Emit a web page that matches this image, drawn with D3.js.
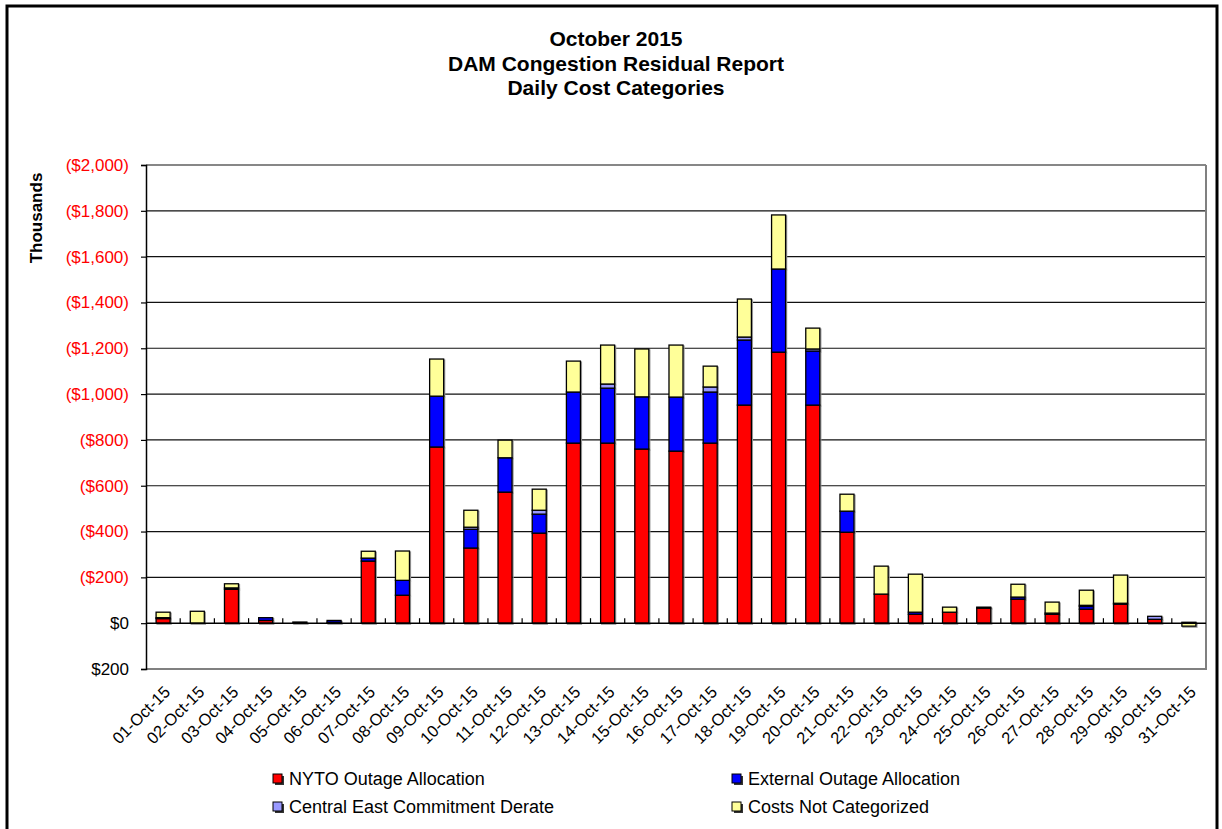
<!DOCTYPE html>
<html>
<head>
<meta charset="utf-8">
<script src="https://cdn.jsdelivr.net/npm/d3@7"></script>
<style>
  body { margin: 0; background: #fff; }
  text { font-family: "Liberation Sans", Arial, sans-serif; }
</style>
</head>
<body>
<div class="graph"></div>
<script>
// data (thousands of $, cost shown as positive = upward)
const days = d3.range(1, 32).map(d => String(d).padStart(2, "0") + "-Oct-15");
const nyto = [20, 0, 153, 12, 0, 4, 271, 122, 769, 328, 572, 393, 786, 786, 760, 751, 786, 952, 1183, 952, 397, 131, 39, 52, 70, 105, 39, 61, 83, 17, 0];
const external = [4, 0, 6, 12, 5, 8, 13, 65, 222, 82, 150, 83, 223, 240, 228, 236, 223, 284, 363, 236, 92, 0, 9, 0, 4, 9, 5, 12, 4, 0, 4];
const centralEast = [0, 0, 0, 0, 0, 0, 0, 0, 0, 9, 0, 17, 0, 18, 0, 0, 22, 13, 0, 9, 0, 0, 0, 0, 0, 0, 0, 5, 0, 13, 0];
const notCategorized = [24, 52, 18, 0, 0, 0, 30, 128, 162, 74, 77, 92, 135, 170, 209, 227, 91, 166, 236, 91, 74, 122, 166, 22, 0, 56, 48, 66, 123, 0, -13];
const negatives = [0, 0, -5, 0, 0, 0, 0, 0, 0, 0, 0, 0, 0, 0, 0, 0, 0, 0, 0, 0, 0, -4, 0, -4, -4, 0, 0, 0, 0, 0, 0];
const seriesNames = ["NYTO Outage Allocation", "External Outage Allocation", "Central East Commitment Derate", "Costs Not Categorized"];
const colors = ["#ff0000", "#0000ff", "#9999ff", "#ffff99"];
const yTicks = d3.range(-200, 2001, 200);

function main() {
  const width = 1222;
  const height = 829;
  const left = 146, right = 1206, top = 165, bottom = 669;

  const rows = days.map((d, i) => ({
    day: d,
    nyto: nyto[i] + negatives[i],
    external: external[i],
    central: centralEast[i],
    other: notCategorized[i]
  }));
  const keys = ["nyto", "external", "central", "other"];
  const stack = d3.stack().keys(keys).offset(d3.stackOffsetDiverging)(rows);

  const xScale = d3.scaleBand().domain(days).range([left, right]).paddingInner(0.59).paddingOuter(0.295);
  const yScale = d3.scaleLinear().domain([-200, 2000]).range([bottom, top]);

  const svg = d3.select(".graph").append("svg")
    .attr("width", width)
    .attr("height", height);

  // outer frame
  svg.append("rect")
    .attr("x", 7).attr("y", 6)
    .attr("width", 1210).attr("height", 830)
    .attr("fill", "none").attr("stroke", "#000").attr("stroke-width", 3);

  // title
  const title = ["October 2015", "DAM Congestion Residual Report", "Daily Cost Categories"];
  svg.selectAll(".title").data(title).enter().append("text")
    .attr("x", 616)
    .attr("y", (d, i) => 46 + i * 24.5)
    .attr("text-anchor", "middle")
    .style("font-size", "21px")
    .style("font-weight", "bold")
    .text(d => d);

  // gridlines
  svg.append("g").selectAll("line").data(yTicks.filter(t => t > 0)).enter().append("line")
    .attr("x1", left).attr("x2", right)
    .attr("y1", d => yScale(d)).attr("y2", d => yScale(d))
    .attr("stroke", "#111").attr("stroke-width", 1.2);

  // plot border right / bottom
  svg.append("path")
    .attr("d", `M${right},${top}V${bottom}H${left}`)
    .attr("fill", "none").attr("stroke", "#808080").attr("stroke-width", 2);

  // bar shadows
  svg.append("g").selectAll("g").data(stack).enter().append("g")
    .selectAll("rect").data(d => d.filter(p => p[1] !== p[0])).enter().append("rect")
    .attr("x", d => xScale(d.data.day) + 1)
    .attr("y", d => yScale(Math.max(d[0], d[1])) + 1)
    .attr("width", xScale.bandwidth())
    .attr("height", d => Math.abs(yScale(d[0]) - yScale(d[1])))
    .attr("fill", "none")
    .attr("stroke", "#999")
    .attr("stroke-width", 1.3);

  // bars
  svg.append("g").selectAll("g").data(stack).enter().append("g")
    .attr("fill", (d, i) => colors[i])
    .selectAll("rect").data(d => d.filter(p => p[1] !== p[0])).enter().append("rect")
    .attr("x", d => xScale(d.data.day))
    .attr("y", d => yScale(Math.max(d[0], d[1])))
    .attr("width", xScale.bandwidth())
    .attr("height", d => Math.abs(yScale(d[0]) - yScale(d[1])))
    .attr("stroke", "#000")
    .attr("stroke-width", 1.3);

  // y axis
  const yAxis = d3.axisLeft(yScale).tickValues(yTicks).tickSize(5).tickPadding(12)
    .tickFormat(d => d > 0 ? "($" + d3.format(",")(d) + ")" : "$" + Math.abs(d));
  const yg = svg.append("g").attr("transform", "translate(" + left + ",0)").call(yAxis);
  yg.select(".domain").attr("stroke", "#000").attr("stroke-width", 1.5);
  yg.selectAll(".tick line").attr("stroke", "#000").attr("stroke-width", 1.2);
  yg.selectAll(".tick text")
    .style("font-size", "17px")
    .style("font-family", "'Liberation Sans', Arial, sans-serif")
    .attr("fill", d => d > 0 ? "#ff0000" : "#000");

  // zero line with category ticks
  svg.append("line")
    .attr("x1", left).attr("x2", right)
    .attr("y1", yScale(0)).attr("y2", yScale(0))
    .attr("stroke", "#000").attr("stroke-width", 1.5);
  svg.append("g").selectAll("line").data(days.slice(1)).enter().append("line")
    .attr("x1", d => xScale(d) - xScale.step() * xScale.paddingInner() / 2)
    .attr("x2", d => xScale(d) - xScale.step() * xScale.paddingInner() / 2)
    .attr("y1", yScale(0) - 5).attr("y2", yScale(0))
    .attr("stroke", "#000").attr("stroke-width", 1.2);

  // x labels
  svg.append("g").selectAll("text").data(days).enter().append("text")
    .attr("transform", d => "translate(" + (xScale(d) + xScale.bandwidth() / 2 + 4) + ",689) rotate(-45)")
    .attr("text-anchor", "end")
    .attr("dy", "0.35em")
    .style("font-size", "16.5px")
    .text(d => d);

  // y axis title
  svg.append("text")
    .attr("transform", "translate(42,218) rotate(-90)")
    .attr("text-anchor", "middle")
    .style("font-size", "17px")
    .style("font-weight", "bold")
    .text("Thousands");

  // legend
  const legendPos = [[278, 779], [737, 779], [278, 807], [737, 807]];
  const lg = svg.append("g").selectAll("g").data(seriesNames).enter().append("g")
    .attr("transform", (d, i) => "translate(" + legendPos[i][0] + "," + legendPos[i][1] + ")");
  lg.append("rect")
    .attr("x", -3).attr("y", -3).attr("width", 9).attr("height", 9)
    .attr("fill", "#333");
  lg.append("rect")
    .attr("x", -5).attr("y", -5).attr("width", 9).attr("height", 9)
    .attr("fill", (d, i) => colors[i])
    .attr("stroke", "#000").attr("stroke-width", 1);
  lg.append("text")
    .attr("x", 11).attr("y", 0).attr("dy", "0.35em")
    .style("font-size", "18px")
    .text(d => d);
}

main();
</script>
</body>
</html>
